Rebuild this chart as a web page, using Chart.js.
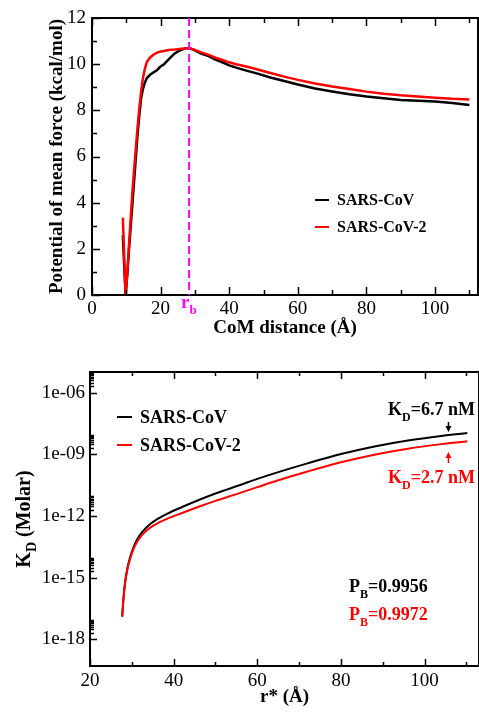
<!DOCTYPE html>
<html>
<head>
<meta charset="utf-8">
<script src="https://cdn.jsdelivr.net/npm/chart.js@4.4.1/dist/chart.umd.min.js"></script>
<style>
  html, body { margin:0; padding:0; background:#fff; }
  body { width:479px; height:713px; position:relative; overflow:hidden; }
  .panel { position:absolute; left:0; width:479px; }
  #pmfWrap { top:0; height:340px; }
  #kdWrap { top:340px; height:373px; }
  canvas { display:block; }
</style>
</head>
<body>
<div class="panel" id="pmfWrap"><canvas id="pmfChart" width="479" height="340"></canvas></div>
<div class="panel" id="kdWrap"><canvas id="kdChart" width="479" height="373"></canvas></div>
<script>
// -- DATA: top panel, PMF vs CoM distance
const seriesNames  = ['SARS-CoV', 'SARS-CoV-2'];
const seriesColors = ['#000000', '#ff0000'];

const pmfDist = [9.0, 9.4, 9.8, 10.3, 10.8, 11.3, 11.8, 12.3, 12.8, 13.3,
                 13.8, 14.3, 14.8, 15.4, 16.0, 17.0, 18.0, 19.0, 20.0, 21.0,
                 22.0, 23.0, 24.0, 25.0, 26.0, 27.0, 28.3, 30, 32, 34,
                 36, 38, 40, 42, 45, 48, 52, 56, 60, 65,
                 70, 75, 80, 85, 90, 95, 100, 105, 110];
const pmfCov  = [2.6, 1.2, 0.0, 0.9, 2.0, 3.0, 4.0, 5.0, 6.0, 7.0,
                 7.8, 8.5, 8.9, 9.2, 9.4, 9.55, 9.65, 9.75, 9.9, 10.0,
                 10.15, 10.3, 10.45, 10.55, 10.62, 10.68, 10.7, 10.6, 10.45, 10.35,
                 10.2, 10.08, 9.95, 9.85, 9.72, 9.6, 9.42, 9.27, 9.12, 8.95,
                 8.82, 8.7, 8.6, 8.52, 8.45, 8.42, 8.38, 8.32, 8.23];
const pmfCov2 = [3.35, 1.6, 0.0, 1.0, 2.2, 3.4, 4.5, 5.5, 6.4, 7.3,
                 8.1, 8.8, 9.35, 9.8, 10.1, 10.3, 10.42, 10.5, 10.55, 10.57,
                 10.6, 10.62, 10.63, 10.65, 10.67, 10.68, 10.7, 10.62, 10.5, 10.4,
                 10.28, 10.18, 10.08, 10.0, 9.9, 9.78, 9.62, 9.46, 9.32, 9.16,
                 9.03, 8.92, 8.81, 8.72, 8.65, 8.6, 8.55, 8.5, 8.47];
const rb = 28.3;

const pmfXTicks = [0, 20, 40, 60, 80, 100];
const pmfXMinor = [10, 30, 50, 70, 90, 110];
const pmfYTicks = [0, 2, 4, 6, 8, 10, 12];
const pmfYMinor = [1, 3, 5, 7, 9, 11];

// -- DATA: bottom panel, K_D vs r*
const rStar  = [27.7, 28.0, 28.4, 29.0, 29.6, 30.4, 31.2, 32.5, 34.4, 36.5,
                38.4, 42, 46.3, 50, 55.9, 60, 65, 72, 80, 88,
                96, 104, 110.2];
const kdCov  = [1.26e-17, 1.0e-16, 6.3e-16, 3.3e-15, 1.0e-14, 2.95e-14, 6.8e-14, 1.66e-13, 4.0e-13, 7.8e-13,
                1.26e-12, 2.7e-12, 6.3e-12, 1.23e-11, 3.2e-11, 6.3e-11, 1.35e-10, 3.6e-10, 1.02e-9, 2.4e-9,
                4.7e-9, 7.8e-9, 1.07e-8];
const kdCov2 = [1.26e-17, 8.9e-17, 5.6e-16, 2.8e-15, 8.3e-15, 2.4e-14, 5.2e-14, 1.23e-13, 2.7e-13, 4.8e-13,
                7.2e-13, 1.38e-12, 2.95e-12, 5.4e-12, 1.32e-11, 2.5e-11, 5.4e-11, 1.45e-10, 4.1e-10, 9.5e-10,
                1.86e-9, 3.1e-9, 4.3e-9];

const kdXTicks = [20, 40, 60, 80, 100];
const kdXMinor = [30, 50, 70, 90, 110];
const kdYTicks = [1e-18, 1e-15, 1e-12, 1e-9, 1e-6];
const kdYMinor = kdYTicks.flatMap(v => [2, 3, 4, 5, 6, 7, 8, 9].map(k => k * v));

const kdLabels = ['6.7 nM', '2.7 nM'];
const pbLabels = ['0.9956', '0.9972'];

const serif = "'Liberation Serif', 'DejaVu Serif', serif";

// -- HELPERS
function withSub(ctx, parts, x, y, size) {
  let cx = x;
  parts.forEach(([t, sub]) => {
    ctx.font = `bold ${sub ? Math.round(size * 0.68) : size}px ${serif}`;
    ctx.fillText(t, cx, sub ? y + size * 0.32 : y);
    cx += ctx.measureText(t).width;
  });
  return cx - x;
}

function subWidth(ctx, parts, size) {
  let w = 0;
  parts.forEach(([t, sub]) => {
    ctx.font = `bold ${sub ? Math.round(size * 0.68) : size}px ${serif}`;
    w += ctx.measureText(t).width;
  });
  return w;
}

function arrow(ctx, x, y0, y1, color) {
  const dir = y1 > y0 ? 1 : -1;
  ctx.strokeStyle = color; ctx.fillStyle = color; ctx.lineWidth = 1.5;
  ctx.beginPath(); ctx.moveTo(x, y0); ctx.lineTo(x, y1 - dir * 3); ctx.stroke();
  ctx.beginPath(); ctx.moveTo(x, y1); ctx.lineTo(x - 3, y1 - dir * 6); ctx.lineTo(x + 3, y1 - dir * 6); ctx.closePath(); ctx.fill();
}

// -- FRAME + INWARD TICKS
const framePlugin = {
  id: 'frame',
  afterDatasetsDraw(chart, args, o) {
    const { ctx, chartArea: a, scales: { x, y } } = chart;
    ctx.save();
    ctx.strokeStyle = '#000';
    ctx.lineWidth = 2;
    ctx.strokeRect(a.left, a.top, a.right - a.left, a.bottom - a.top);
    ctx.lineWidth = 1.5;
    const seg = (x1, y1, x2, y2) => { ctx.beginPath(); ctx.moveTo(x1, y1); ctx.lineTo(x2, y2); ctx.stroke(); };
    const xt = (vals, len) => vals.forEach(v => {
      const p = Math.round(x.getPixelForValue(v)) + 0.5;
      seg(p, a.bottom, p, a.bottom - len);
      seg(p, a.top, p, a.top + len);
    });
    const yt = (vals, len) => vals.forEach(v => {
      if (v < y.min || v > y.max) return;
      const p = Math.round(y.getPixelForValue(v)) + 0.5;
      seg(a.left, p, a.left + len, p);
    });
    xt(o.xMajor, o.major); xt(o.xMinor, o.minor);
    yt(o.yMajor, o.major); yt(o.yMinor, o.minor);
    ctx.restore();
  }
};

// -- TOP PANEL NOTES
const pmfNotes = {
  id: 'pmfNotes',
  afterDatasetsDraw(chart) {
    const { ctx, chartArea: a, scales: { x } } = chart;
    const px = x.getPixelForValue(rb);
    ctx.save();
    ctx.strokeStyle = '#ff00ff'; ctx.lineWidth = 2; ctx.setLineDash([8, 4]);
    ctx.beginPath(); ctx.moveTo(px, a.top); ctx.lineTo(px, a.bottom); ctx.stroke();
    ctx.setLineDash([]);
    ctx.fillStyle = '#ff00ff'; ctx.textBaseline = 'alphabetic';
    withSub(ctx, [['r', false], ['b', true]], px - 8, 308, 19);
    // legend
    ctx.textBaseline = 'middle';
    seriesNames.forEach((n, i) => {
      const ly = 200 + i * 27;
      ctx.strokeStyle = seriesColors[i]; ctx.lineWidth = 2;
      ctx.beginPath(); ctx.moveTo(315, ly); ctx.lineTo(329, ly); ctx.stroke();
      ctx.fillStyle = '#000';
      ctx.font = `bold 16px ${serif}`;
      ctx.fillText(n, 337, ly + 1);
    });
    ctx.restore();
  }
};

// -- BOTTOM PANEL NOTES
const kdNotes = {
  id: 'kdNotes',
  afterDatasetsDraw(chart) {
    const { ctx, scales: { x } } = chart;
    ctx.save();
    // y title with subscript
    ctx.fillStyle = '#000'; ctx.textBaseline = 'alphabetic';
    const titleParts = [['K', false], ['D', true], [' (Molar)', false]];
    const tw = subWidth(ctx, titleParts, 20);
    ctx.translate(30, 179);
    ctx.rotate(-Math.PI / 2);
    withSub(ctx, titleParts, -tw / 2, 0, 20);
    ctx.setTransform(1, 0, 0, 1, 0, 0);
    // legend
    ctx.textBaseline = 'middle';
    seriesNames.forEach((n, i) => {
      const ly = 77 + i * 28;
      ctx.strokeStyle = seriesColors[i]; ctx.lineWidth = 2;
      ctx.beginPath(); ctx.moveTo(117, ly); ctx.lineTo(132, ly); ctx.stroke();
      ctx.fillStyle = '#000';
      ctx.font = `bold 18px ${serif}`;
      ctx.fillText(n, 140, ly + 1);
    });
    // K_D labels and arrows
    ctx.textBaseline = 'alphabetic';
    const ax = x.getPixelForValue(105.7);
    ctx.fillStyle = seriesColors[0];
    withSub(ctx, [['K', false], ['D', true], ['=' + kdLabels[0], false]], 388, 75, 18);
    arrow(ctx, ax, 82, 92, seriesColors[0]);
    ctx.fillStyle = seriesColors[1];
    withSub(ctx, [['K', false], ['D', true], ['=' + kdLabels[1], false]], 388, 143, 18);
    arrow(ctx, ax, 123, 112, seriesColors[1]);
    // P_B labels
    pbLabels.forEach((t, i) => {
      ctx.fillStyle = seriesColors[i];
      withSub(ctx, [['P', false], ['B', true], ['=' + t, false]], 349, 252 + i * 28, 18);
    });
    ctx.restore();
  }
};

const tickFont = { family: serif, size: 19 };
const titleFont = { family: serif, size: 19, weight: 'bold' };

// -- TOP CHART
new Chart(document.getElementById('pmfChart'), {
  type: 'line',
  data: {
    datasets: [
      { label: seriesNames[0], data: pmfDist.map((d, i) => ({ x: d, y: pmfCov[i] })),
        borderColor: seriesColors[0], borderWidth: 2.5, pointRadius: 0, tension: 0, order: 1 },
      { label: seriesNames[1], data: pmfDist.map((d, i) => ({ x: d, y: pmfCov2[i] })),
        borderColor: seriesColors[1], borderWidth: 2.5, pointRadius: 0, tension: 0, order: 0 }
    ]
  },
  options: {
    responsive: false, animation: false,
    layout: { padding: { top: 18, right: 1, left: 0, bottom: 0 } },
    plugins: {
      legend: { display: false }, tooltip: { enabled: false },
      frame: { xMajor: pmfXTicks, xMinor: pmfXMinor, yMajor: pmfYTicks, yMinor: pmfYMinor, major: 8, minor: 5 }
    },
    scales: {
      x: {
        type: 'linear', min: 0, max: 112.5,
        afterBuildTicks: s => { s.ticks = pmfXTicks.map(v => ({ value: v })); },
        afterFit: s => { s.height = 45; },
        grid: { display: false, drawTicks: false }, border: { display: false },
        ticks: { font: tickFont, color: '#000', padding: 3, maxRotation: 0, autoSkip: false },
        title: { display: true, text: 'CoM distance (Å)', font: titleFont, color: '#000', padding: { top: 0, bottom: 1 } }
      },
      y: {
        type: 'linear', min: 0, max: 12,
        afterBuildTicks: s => { s.ticks = pmfYTicks.map(v => ({ value: v })); },
        afterFit: s => { s.width = 92; },
        grid: { display: false, drawTicks: false }, border: { display: false },
        ticks: { font: tickFont, color: '#000', padding: 6 },
        title: { display: true, text: 'Potential of mean force (kcal/mol)', font: titleFont, color: '#000', padding: { top: 46, bottom: 0 } }
      }
    }
  },
  plugins: [framePlugin, pmfNotes]
});

// -- BOTTOM CHART
new Chart(document.getElementById('kdChart'), {
  type: 'line',
  data: {
    datasets: [
      { label: seriesNames[0], data: rStar.map((r, i) => ({ x: r, y: kdCov[i] })),
        borderColor: seriesColors[0], borderWidth: 2, pointRadius: 0, cubicInterpolationMode: 'monotone', order: 1 },
      { label: seriesNames[1], data: rStar.map((r, i) => ({ x: r, y: kdCov2[i] })),
        borderColor: seriesColors[1], borderWidth: 2, pointRadius: 0, cubicInterpolationMode: 'monotone', order: 0 }
    ]
  },
  options: {
    responsive: false, animation: false,
    layout: { padding: { top: 32, right: 0, left: 0, bottom: 0 } },
    plugins: {
      legend: { display: false }, tooltip: { enabled: false },
      frame: { xMajor: kdXTicks, xMinor: kdXMinor, yMajor: kdYTicks, yMinor: kdYMinor, major: 7, minor: 4 }
    },
    scales: {
      x: {
        type: 'linear', min: 20, max: 113,
        afterBuildTicks: s => { s.ticks = kdXTicks.map(v => ({ value: v })); },
        afterFit: s => { s.height = 47; },
        grid: { display: false, drawTicks: false }, border: { display: false },
        ticks: { font: tickFont, color: '#000', padding: 4, maxRotation: 0, autoSkip: false },
        title: { display: true, text: 'r* (Å)', font: titleFont, color: '#000', padding: { top: 0, bottom: 5 } }
      },
      y: {
        type: 'logarithmic', min: 5e-20, max: 1e-5,
        afterBuildTicks: s => { s.ticks = kdYTicks.map(v => ({ value: v })); },
        afterFit: s => { s.width = 90; },
        grid: { display: false, drawTicks: false }, border: { display: false },
        ticks: {
          font: tickFont, color: '#000', padding: 5,
          callback: v => '1e-' + String(-Math.round(Math.log10(v))).padStart(2, '0')
        }
      }
    }
  },
  plugins: [framePlugin, kdNotes]
});
</script>
</body>
</html>
